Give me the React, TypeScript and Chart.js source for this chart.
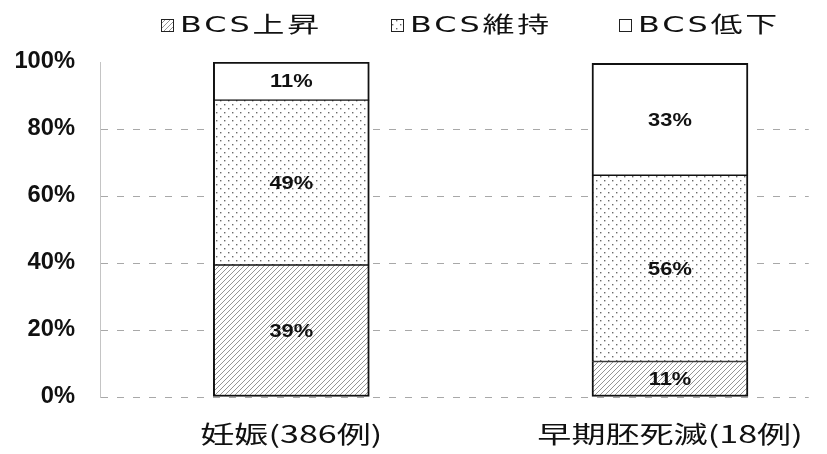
import React, { useEffect, useRef } from "react";
import { Chart, registerables } from "chart.js";

Chart.register(...registerables);

const categories = ["妊娠(386例)", "早期胚死滅(18例)"];
const seriesNames = ["BCS上昇", "BCS維持", "BCS低下"];
const bcsUp = [39.4, 10.6];
const bcsKeep = [49.2, 55.6];
const bcsDown = [11.4, 33.4];
const yTicks = [0, 20, 40, 60, 80, 100];

// horizontal stretch [scaleX, letterSpacing] per font pixel size (mimics the scanned, widened type)
const STRETCH: Record<number, [number, number]> = {
  22: [1.45, 2], // legend
  23: [1.03, 0], // y ticks
  24: [1.42, 0], // category labels
  19: [1.15, 0], // value labels
};

function patchContext(ctx: any) {
  const baseFill = ctx.fillText.bind(ctx);
  const baseMeasure = ctx.measureText.bind(ctx);
  const get = (): [number, number] => {
    const m = /(\d+(?:\.\d+)?)px/.exec(ctx.font);
    const k = m ? Math.round(parseFloat(m[1])) : 0;
    return STRETCH[k] || [1, 0];
  };
  ctx.fillText = (text: string, x: number, y: number, maxWidth?: number) => {
    const [sx, ls] = get();
    if (sx === 1 && ls === 0) {
      if (maxWidth === undefined) baseFill(text, x, y);
      else baseFill(text, x, y, maxWidth);
      return;
    }
    ctx.save();
    ctx.translate(x, y);
    ctx.scale(sx, 1);
    ctx.letterSpacing = ls + "px";
    baseFill(text, 0, 0);
    ctx.restore();
  };
  ctx.measureText = (text: string) => {
    const [sx, ls] = get();
    const prev = ctx.letterSpacing;
    ctx.letterSpacing = ls + "px";
    const m = baseMeasure(text);
    ctx.letterSpacing = prev;
    return {
      width: m.width * sx,
      actualBoundingBoxAscent: m.actualBoundingBoxAscent,
      actualBoundingBoxDescent: m.actualBoundingBoxDescent,
      actualBoundingBoxLeft: m.actualBoundingBoxLeft * sx,
      actualBoundingBoxRight: m.actualBoundingBoxRight * sx,
      fontBoundingBoxAscent: m.fontBoundingBoxAscent,
      fontBoundingBoxDescent: m.fontBoundingBoxDescent,
    };
  };
}

function makeHatch(): CanvasPattern | string {
  const c = document.createElement("canvas");
  c.width = 5;
  c.height = 5;
  const g = c.getContext("2d");
  if (!g) return "#ccc";
  g.fillStyle = "#ffffff";
  g.fillRect(0, 0, 5, 5);
  g.strokeStyle = "#959595";
  g.lineWidth = 1;
  g.beginPath();
  g.moveTo(0, 5);
  g.lineTo(5, 0);
  g.moveTo(-2.5, 2.5);
  g.lineTo(2.5, -2.5);
  g.moveTo(2.5, 7.5);
  g.lineTo(7.5, 2.5);
  g.stroke();
  return g.createPattern(c, "repeat") || "#ccc";
}

function makeDots(): CanvasPattern | string {
  const c = document.createElement("canvas");
  c.width = 8;
  c.height = 8;
  const g = c.getContext("2d");
  if (!g) return "#eee";
  g.fillStyle = "#ffffff";
  g.fillRect(0, 0, 8, 8);
  g.fillStyle = "#6a6a6a";
  g.fillRect(0, 0, 1.4, 1.4);
  g.fillRect(4, 4, 1.4, 1.4);
  return g.createPattern(c, "repeat") || "#eee";
}

const valueLabels = {
  id: "valueLabels",
  afterDatasetsDraw(chart: any) {
    const ctx = chart.ctx;
    ctx.save();
    ctx.font = "bold 19px 'Liberation Sans', Arial, sans-serif";
    ctx.fillStyle = "#111";
    ctx.textAlign = "center";
    ctx.textBaseline = "middle";
    chart.data.datasets.forEach((ds: any, i: number) => {
      const meta = chart.getDatasetMeta(i);
      meta.data.forEach((el: any, j: number) => {
        const v = ds.data[j].y;
        ctx.fillText(Math.round(v) + "%", el.x, (el.y + el.base) / 2 + 1);
      });
    });
    ctx.restore();
  },
};

const customLegend = {
  id: "customLegend",
  afterDraw(chart: any) {
    const ctx = chart.ctx;
    const boxX = [161, 391, 619];
    const cy = 25;
    ctx.save();
    ctx.font = "22px 'DejaVu Sans', 'Noto Sans CJK JP', sans-serif";
    ctx.textAlign = "left";
    ctx.textBaseline = "middle";
    chart.data.datasets.forEach((ds: any, i: number) => {
      const x = boxX[i];
      ctx.fillStyle = ds.backgroundColor;
      ctx.fillRect(x, cy - 6, 13, 13);
      ctx.strokeStyle = "#222";
      ctx.lineWidth = 1;
      ctx.strokeRect(x + 0.5, cy - 5.5, 12, 12);
      ctx.fillStyle = "#111";
      ctx.fillText(ds.label, x + 19, cy + 1);
    });
    ctx.restore();
  },
};

export default function App() {
  const ref = useRef<HTMLCanvasElement>(null);
  useEffect(() => {
    const canvas = ref.current;
    if (!canvas) return;
    const ctx = canvas.getContext("2d");
    if (ctx) patchContext(ctx);
    const hatch = makeHatch();
    const dots = makeDots();
    const fills = [hatch, dots, "#ffffff"];
    const seriesData = [bcsUp, bcsKeep, bcsDown];
    const n = seriesNames.length;
    const chart = new Chart(canvas, {
      type: "bar",
      data: {
        datasets: seriesNames.map((name, i) => ({
          label: name,
          data: seriesData[i].map((v, j) => ({ x: j, y: v })),
          backgroundColor: fills[i] as any,
          borderColor: "#111",
          borderWidth: {
            left: 2,
            right: 2,
            top: i === n - 1 ? 2 : 1,
            bottom: i === 0 ? 2 : 1,
          },
          borderSkipped: false,
          barThickness: 156,
        })),
      },
      options: {
        animation: false,
        responsive: true,
        maintainAspectRatio: false,
        layout: { padding: { left: 0, right: 12, top: 62, bottom: 6 } },
        plugins: {
          tooltip: { enabled: false },
          legend: { display: false },
        },
        scales: {
          x: {
            type: "linear",
            stacked: true,
            offset: false,
            min: -0.5052,
            max: 1.3665,
            grid: { display: false, drawTicks: false, offset: false },
            border: { display: false },
            afterFit: (s: any) => {
              s.height = 51;
            },
            ticks: {
              stepSize: 1,
              includeBounds: false,
              autoSkip: false,
              maxRotation: 0,
              color: "#111",
              padding: 22,
              font: { size: 24, family: "'Noto Sans CJK JP', sans-serif" },
              callback: (v: any) =>
                Number.isInteger(v) && categories[v] !== undefined ? categories[v] : "",
            },
          },
          y: {
            stacked: true,
            min: 0,
            max: 100,
            afterBuildTicks: (axis: any) => {
              axis.ticks = yTicks.map((v) => ({ value: v }));
            },
            afterFit: (s: any) => {
              s.width = 100;
            },
            grid: {
              color: (c: any) => (c.tick && c.tick.value === 100 ? "rgba(0,0,0,0)" : "#a8a8a8"),
              lineWidth: 1,
              drawTicks: false,
            },
            border: { display: true, dash: [7, 9], color: "#c4c4c4" },
            ticks: {
              color: "#111",
              padding: 25,
              font: { size: 23, weight: "bold", family: "'Liberation Sans', Arial, sans-serif" },
              callback: (v: any) => v + "%",
            },
          },
        },
      },
      plugins: [valueLabels, customLegend],
    } as any);
    return () => chart.destroy();
  }, []);
  return (
    <div style={{ position: "fixed", left: 0, top: 0, width: 827, height: 454, background: "#fff" }}>
      <canvas ref={ref} />
    </div>
  );
}
